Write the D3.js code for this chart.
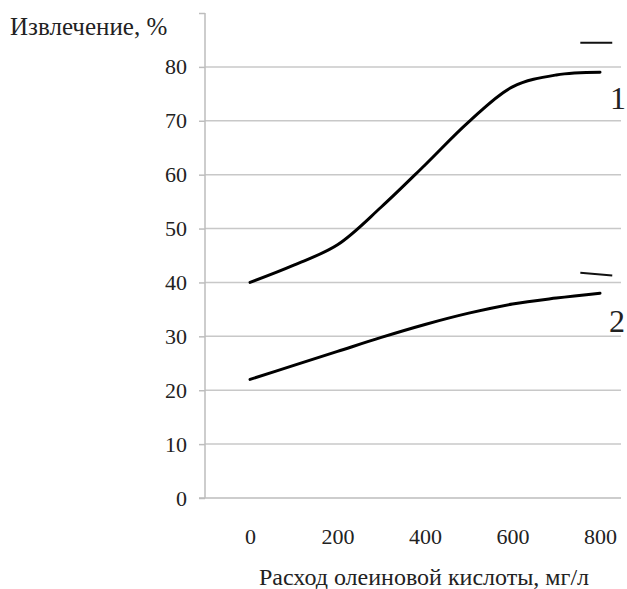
<!DOCTYPE html>
<html><head><meta charset="utf-8">
<script src="https://cdn.jsdelivr.net/npm/d3@7/dist/d3.min.js"></script>
<style>body{margin:0;background:#fff}svg{display:block}text{font-family:"Liberation Serif","Times New Roman",serif;fill:#222}</style>
</head><body>
<svg id="c" width="627" height="589"></svg>
<script>
const xValues = [0, 100, 200, 300, 400, 500, 600, 700, 800];
const series1 = [40, 43.2, 47, 54, 61.8, 69.8, 76.3, 78.5, 79];
const series2 = [22, 24.6, 27.2, 29.8, 32.2, 34.3, 36, 37.1, 38];
const xTicks = [0, 200, 400, 600, 800];
const yTicks = [0, 10, 20, 30, 40, 50, 60, 70, 80, 90];
const yTickLabels = ["0","10","20","30","40","50","60","70","80",""];
const seriesLabels = ["1", "2"];
const dash1 = [[755, 84.5], [828, 84.5]];
const dash2 = [[755, 41.8], [828, 41.3]];
const yTitle = "Извлечение, %";
const xTitle = "Расход олеиновой кислоты, мг/л";

const svg = d3.select("#c");
const x = d3.scaleLinear().domain([-103, 848]).range([205, 621]);
const y = d3.scaleLinear().domain([0, 90]).range([498, 13]);

// gridlines
svg.append("g").selectAll("line").data(yTicks.filter(d => d > 0 && d < 90)).join("line")
  .attr("x1", 205).attr("x2", 621).attr("y1", d => y(d)).attr("y2", d => y(d))
  .attr("stroke", "#c8c8c8").attr("stroke-width", 1.5);

// y axis
const yAxis = d3.axisLeft(y).tickValues(yTicks).tickFormat((d, i) => yTickLabels[i]).tickSize(6).tickPadding(12);
const gy = svg.append("g").attr("transform", "translate(205,0)").call(yAxis);
gy.select(".domain").attr("stroke", "#bdbdbd").attr("stroke-width", 1.5).attr("d", `M0,${y(90)}V${y(0)}`);
gy.selectAll(".tick line").attr("stroke", "#bdbdbd").attr("stroke-width", 1.5);
gy.selectAll(".tick text").attr("font-size", 22).attr("font-family", "Liberation Serif").attr("fill", "#222");

// x axis (baseline)
const xAxis = d3.axisBottom(x).tickValues(xTicks).tickSize(0).tickPadding(30);
const gx = svg.append("g").attr("transform", `translate(0,${y(0)})`).call(xAxis);
gx.select(".domain").attr("stroke", "#bdbdbd").attr("stroke-width", 1.5).attr("d", `M199,0H621`);
gx.selectAll(".tick text").attr("font-size", 22).attr("font-family", "Liberation Serif").attr("fill", "#222");

// curves
const line = d3.line().x((d, i) => x(xValues[i])).y(d => y(d)).curve(d3.curveCatmullRom.alpha(0.5));
[series1, series2].forEach(s => {
  svg.append("path").attr("d", line(s)).attr("fill", "none").attr("stroke", "#000")
    .attr("stroke-width", 3).attr("stroke-linecap", "round");
});

// dashes
const dl = d3.line().x(d => x(d[0])).y(d => y(d[1]));
[dash1, dash2].forEach(d => {
  svg.append("path").attr("d", dl(d)).attr("stroke", "#111").attr("stroke-width", 2).attr("fill", "none");
});

// series labels
svg.append("text").attr("x", 610).attr("y", 109).attr("font-size", 32).text(seriesLabels[0]);
svg.append("text").attr("x", 609).attr("y", 332).attr("font-size", 32).text(seriesLabels[1]);

// titles
svg.append("text").attr("x", 10).attr("y", 35).attr("font-size", 25).text(yTitle);
svg.append("text").attr("x", 424).attr("y", 585).attr("text-anchor", "middle").attr("font-size", 24).text(xTitle);
</script>
</body></html>
